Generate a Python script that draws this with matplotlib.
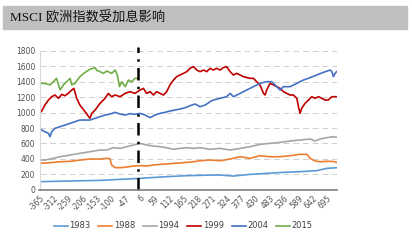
import matplotlib.pyplot as plt
from matplotlib.patches import Rectangle

# days relative to the first hike, index level
x1983 = [-365, -265, -142, 6, 104, 178, 264, 301, 350, 412, 473, 535, 596, 657, 694, 731]
y1983 = [104, 112, 121, 147, 169, 182, 190, 190, 177, 199, 212, 225, 234, 247, 277, 285]

x1988 = [-365, -326, -289, -252, -216, -179, -142, -117, -105, -99, -86, -68, -43, -19, 6, 30,
         55, 80, 104, 129, 153, 178, 203, 227, 264, 301, 338, 375, 412, 448, 485, 522, 559, 596,
         621, 633, 651, 670, 694, 719, 731]
y1988 = [342, 350, 363, 368, 385, 398, 398, 407, 402, 320, 286, 286, 294, 307, 312, 308,
         320, 329, 333, 342, 346, 355, 363, 376, 385, 376, 398, 428, 407, 441, 428, 428, 441, 459,
         459, 407, 372, 363, 368, 366, 355]

x1994 = [-365, -345, -326, -289, -252, -216, -179, -142, -117, -93, -68, -43, -19, 6, 30, 55,
         80, 104, 129, 153, 178, 203, 227, 264, 301, 338, 375, 412, 448, 485, 522, 559, 596, 633,
         651, 670, 694, 719, 731]
y1994 = [385, 385, 398, 428, 450, 472, 493, 515, 515, 545, 536, 558, 580, 601, 580, 567,
         558, 545, 524, 536, 545, 536, 545, 524, 536, 515, 536, 558, 589, 601, 614, 632, 645, 658,
         632, 658, 675, 688, 680]

x1999 = [-365, -357, -345, -332, -320, -308, -295, -283, -271, -259, -246, -238, -228, -216,
         -197, -179, -172, -160, -142, -123, -111, -99, -86, -68, -49, -31, -13, 6, 18, 30, 43,
         55, 67, 80, 92, 104, 116, 129, 141, 153, 166, 178, 190, 203, 215,
         227, 240, 252, 264, 276, 288, 301, 313, 325, 338, 350, 362, 375, 387, 399, 412, 424,
         436, 448, 461, 467, 473, 485, 498, 510, 522, 535, 547, 559, 571, 584, 590, 596, 602,
         614, 627, 639, 651, 664, 676, 688, 700, 713, 725, 731]
y1999 = [991, 1021, 1099, 1164, 1207, 1229, 1186, 1237, 1220, 1250, 1294, 1315, 1186, 1099,
         1012, 926, 991, 1034, 1120, 1186, 1250, 1207, 1229, 1207, 1250, 1272, 1250, 1294, 1315,
         1250, 1272,
         1229, 1272, 1250, 1229, 1272, 1359, 1423, 1467, 1488, 1510, 1532, 1575, 1597, 1553,
         1532, 1553, 1532, 1575, 1553, 1575, 1553, 1585, 1597, 1532, 1488, 1510, 1488, 1467,
         1456, 1445, 1445, 1402, 1359, 1250, 1229, 1294, 1380, 1359, 1337, 1315, 1272, 1250,
         1229, 1229, 1186, 1077, 991, 1056, 1120, 1164, 1207, 1186, 1207, 1186, 1164, 1164,
         1207, 1207, 1207]

x2004 = [-365, -357, -345, -332, -326, -320, -308, -289, -271, -252, -234, -216, -197, -179,
         -160, -142, -123, -105, -86, -68, -49, -31, -13, 6, 24, 43, 61, 80, 98, 116, 135, 153,
         172, 190, 209, 227, 246, 264, 276, 301, 325, 338, 350, 375, 399, 424, 448, 473, 491, 504,
         522, 535, 559, 584, 608, 633, 657, 682, 707, 713, 719, 725, 731]
y2004 = [796, 775, 753, 730, 688, 753, 796, 818, 839, 861, 883, 904, 904, 904, 926, 948, 969,
         982, 1004, 982, 969, 987, 978, 991, 969, 935, 969, 991, 1004, 1021, 1034, 1047, 1064,
         1090, 1112, 1077, 1099, 1142, 1164, 1186, 1207, 1250, 1207, 1250, 1294, 1337, 1380,
         1402, 1402, 1359, 1294, 1337, 1337, 1380, 1423, 1454, 1488, 1523, 1553, 1532, 1467,
         1510, 1532]

x2015 = [-365, -345, -326, -314, -302, -289, -277, -265, -252, -246, -234, -216, -197, -179,
         -160, -154, -142, -129, -117, -99, -86, -78, -70, -62, -49, -37, -25, -13, -4]
y2015 = [1380, 1380, 1360, 1400, 1445, 1295, 1360, 1400, 1445, 1360, 1380, 1467, 1523, 1562,
         1584, 1550, 1532, 1510, 1540, 1510, 1553, 1488, 1337, 1400, 1337, 1423, 1400, 1445, 1445]

series = [
    ("1983", x1983, y1983, "#5B9BD5"),
    ("1988", x1988, y1988, "#ED7D31"),
    ("1994", x1994, y1994, "#A5A5A5"),
    ("1999", x1999, y1999, "#C00000"),
    ("2004", x2004, y2004, "#4472C4"),
    ("2015", x2015, y2015, "#70AD47"),
]

xticks = list(range(-365, 700, 53))
yticks = list(range(0, 1801, 200))

fig = plt.figure(figsize=(4.12, 2.4), dpi=100)

# title bar
fig.patches.append(Rectangle((3 / 412, 1 - 29 / 240), 404 / 412, 23 / 240,
                             transform=fig.transFigure, color="#BFBFBF", zorder=0))
fig.text(10 / 412, 1 - 18 / 240, "MSCI 欧洲指数受加息影响", fontsize=9.5, va="center",
         family=["Liberation Serif", "Noto Sans CJK SC"], color="#111111")

ax = fig.add_axes([39.5 / 412, 1 - 189.7 / 240, 297.2 / 412, 138.7 / 240])
for name, xs, ys, c in series:
    ax.plot(xs, ys, color=c, linewidth=1.2, label=name)

ax.axvline(0, ymin=0, ymax=1.03, color="black", linestyle=(0, (5, 2.5, 1, 2.5)),
           linewidth=1.8, clip_on=False)

ax.set_xlim(-365, 731)
ax.set_ylim(0, 1800)
ax.set_yticks(yticks)
ax.set_xticks(xticks)
ax.set_xticklabels([str(t) for t in xticks], rotation=45, ha="right", va="top",
                   rotation_mode="anchor")
ax.tick_params(axis="both", labelsize=5.5, length=0, colors="#505050", pad=3)
ax.grid(axis="y", color="#D0D0D0", linestyle=(0, (6, 4)), linewidth=0.7)
ax.set_axisbelow(True)
for s in ["top", "right"]:
    ax.spines[s].set_visible(False)
ax.spines["left"].set_color("#D9D9D9")
ax.spines["bottom"].set_color("#808080")
ax.spines["bottom"].set_linewidth(1.2)

fig.legend(loc="center", bbox_to_anchor=(183 / 412, 1 - 226 / 240), ncol=6, frameon=False,
           fontsize=6, handlelength=1.7, columnspacing=0.95, handletextpad=0.15,
           labelcolor="#404040")

fig.savefig("out.png", dpi=100)
